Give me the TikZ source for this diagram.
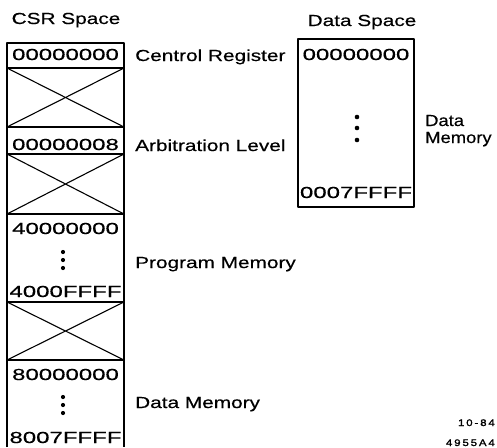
\documentclass[tikz,border=0pt]{standalone}
\usepackage{fontspec}
\setmainfont{Liberation Sans}[FakeStretch=1.3,FakeBold=0.4]
\newfontfamily\addrfont{Liberation Sans}[FakeStretch=1.5,FakeBold=0.4]
\newfontfamily\sidefont{Liberation Sans}[FakeStretch=1.15,FakeBold=0.4]
\newfontfamily\tinyfont{Liberation Sans}[FakeStretch=1.2,LetterSpace=20,FakeBold=1.5]
\begin{document}
\begin{tikzpicture}[x=1pt,y=-1pt,
  lbl/.style={inner sep=0pt,anchor=base west,font=\fontsize{16}{16}\selectfont},
  side/.style={inner sep=0pt,anchor=base west,font=\sidefont\fontsize{16}{16}\selectfont},
  ttl/.style={inner sep=0pt,anchor=base,font=\fontsize{16}{16}\selectfont},
  addr/.style={inner sep=0pt,anchor=base,font=\addrfont\fontsize{16}{16}\selectfont},
  tiny/.style={inner sep=0pt,anchor=base east,font=\tinyfont\fontsize{9.5}{9.5}\selectfont},
  frame/.style={line width=1.6pt,line join=round},
  sep/.style={line width=1.6pt},
  cross/.style={line width=1.1pt},
  dotf/.style={fill=black,draw=none}]
\useasboundingbox (0,0) rectangle (497,447);

% ---- CSR space column ----
\coordinate (cL0) at (7,43);   \coordinate (cR0) at (124,43);
\coordinate (cL1) at (7,68);   \coordinate (cR1) at (124,68);
\coordinate (cL2) at (7,127);  \coordinate (cR2) at (124,127);
\coordinate (cL3) at (7,154);  \coordinate (cR3) at (124,154);
\coordinate (cL4) at (7,214);  \coordinate (cR4) at (124,214);
\coordinate (cL5) at (7,302);  \coordinate (cR5) at (124,302);
\coordinate (cL6) at (7,360);  \coordinate (cR6) at (124,360);
\coordinate (cLb) at (7,447);  \coordinate (cRb) at (124,447);

\draw[frame] (cLb) -- (cL0) -- (cR0) -- (cRb);
\foreach \i in {1,...,6} \draw[sep] (cL\i) -- (cR\i);
% crossed (unused) regions
\draw[cross] (cL1) -- (cR2) (cR1) -- (cL2);
\draw[cross] (cL3) -- (cR4) (cR3) -- (cL4);
\draw[cross] (cL5) -- (cR6) (cR5) -- (cL6);

\node[ttl] (csrtitle) at (66,24) {CSR Space};
\node[addr] (a0) at (65.5,60) {00000000};
\node[addr] (a8) at (65.5,150) {00000008};
\node[addr] (a4s) at (65.5,234) {40000000};
\node[addr] (a4e) at (65.5,297) {4000FFFF};
\node[addr] (a8s) at (65.5,380) {80000000};
\node[addr] (a8e) at (65.5,443) {8007FFFF};

\fill[dotf] (63,252) circle (2.1) (63,260) circle (2.1) (63,268) circle (2.1);
\fill[dotf] (63,397) circle (2.1) (63,405) circle (2.1) (63,413) circle (2.1);

\node[lbl] (ctrl) at (135,61) {Centrol Register};
\node[lbl] (arb) at (135,151) {Arbitration Level};
\node[lbl] (prog) at (135,268) {Program Memory};
\node[lbl] (dmem) at (135,408) {Data Memory};

% ---- Data space box ----
\coordinate (dTL) at (298,39);
\coordinate (dBR) at (414,207);
\draw[frame] (dTL) rectangle (dBR);
\node[ttl] (dstitle) at (362,26) {Data Space};
\node[addr] (d0) at (356,60) {00000000};
\node[addr] (de) at (356,198) {0007FFFF};
\fill[dotf] (357,117) circle (2.3) (357,128) circle (2.3) (357,140) circle (2.3);
\node[side] (dlab1) at (425,126) {Data};
\node[side] (dlab2) at (425,143) {Memory};

% ---- figure code ----
\node[tiny] (code1) at (495,426) {10-84};
\node[tiny] (code2) at (495,446) {4955A4};
\end{tikzpicture}
\end{document}
